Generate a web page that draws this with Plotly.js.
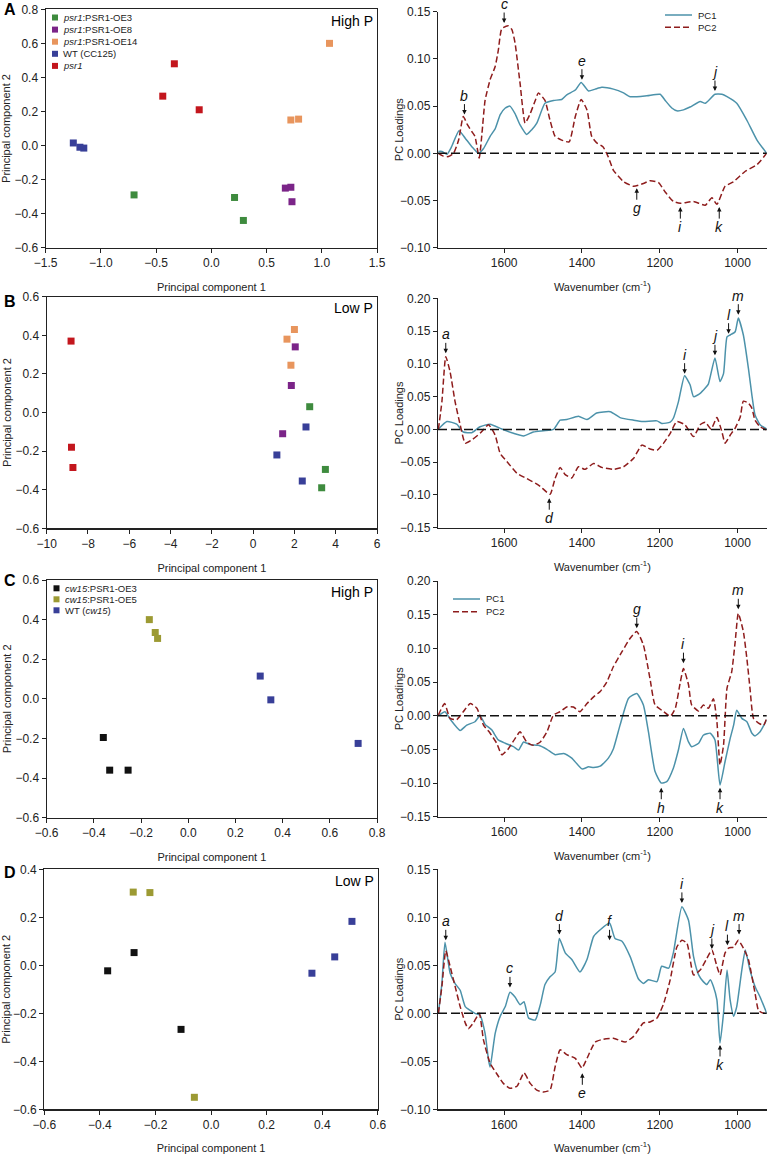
<!DOCTYPE html>
<html><head><meta charset="utf-8">
<script src="https://cdn.plot.ly/plotly-3.0.1.min.js"></script>
<style>html,body{margin:0;padding:0;background:#fff}#chart{width:770px;height:1154px}</style>
</head><body><div id="chart"></div>
<script>
// ---------- Scatter (PCA scores) data ----------
// Panel A (High P)
const A_OE3_x = [-0.70, 0.21, 0.29],   A_OE3_y = [-0.29, -0.305, -0.44];
const A_OE8_x = [0.67, 0.72, 0.73],    A_OE8_y = [-0.25, -0.245, -0.33];
const A_OE14_x = [0.72, 0.79, 1.07],   A_OE14_y = [0.15, 0.155, 0.60];
const A_WT_x = [-1.25, -1.19, -1.155], A_WT_y = [0.015, -0.01, -0.015];
const A_psr1_x = [-0.335, -0.44, -0.11], A_psr1_y = [0.48, 0.29, 0.21];
// Panel B (Low P)
const B_OE3_x = [2.74, 3.5, 3.32],     B_OE3_y = [0.03, -0.295, -0.39];
const B_OE8_x = [2.04, 1.85, 1.43],    B_OE8_y = [0.34, 0.14, -0.11];
const B_OE14_x = [2.0, 1.64, 1.83],    B_OE14_y = [0.43, 0.38, 0.245];
const B_WT_x = [2.56, 1.15, 2.38],     B_WT_y = [-0.075, -0.22, -0.355];
const B_psr1_x = [-8.82, -8.8, -8.73], B_psr1_y = [0.37, -0.18, -0.285];
// Panel C (High P, cw15)
const C_OE3_x = [-0.36, -0.333, -0.255], C_OE3_y = [-0.195, -0.36, -0.36];
const C_OE5_x = [-0.165, -0.14, -0.13],  C_OE5_y = [0.40, 0.335, 0.305];
const C_WT_x = [0.305, 0.35, 0.72],      C_WT_y = [0.115, -0.005, -0.225];
// Panel D (Low P, cw15)
const D_OE3_x = [-0.277, -0.372, -0.108], D_OE3_y = [0.053, -0.023, -0.267];
const D_OE5_x = [-0.28, -0.22, -0.06],    D_OE5_y = [0.305, 0.303, -0.55];
const D_WT_x = [0.507, 0.445, 0.363],     D_WT_y = [0.183, 0.035, -0.033];

const legendPsr = ['<i>psr1</i>:PSR1-OE3', '<i>psr1</i>:PSR1-OE8', '<i>psr1</i>:PSR1-OE14', 'WT (CC125)', '<i>psr1</i>'];
const legendCw = ['<i>cw15</i>:PSR1-OE3', '<i>cw15</i>:PSR1-OE5', 'WT (<i>cw15</i>)'];
const legendPC = ['PC1', 'PC2'];

// ---------- Loadings data (wavenumber, cm-1) ----------
const A_wn1 = [1769,1760,1747,1735,1716,1700,1683,1666,1653,1636,1623,1610,1597,1585,1572,1559,1542,1529,1516,1495,1473,1452,1439,1417,1402,1383,1366,1349,1319,1293,1276,1233,1199,1186,1169,1156,1139,1122,1096,1083,1058,1040,1027,1002,976,950,925];
const A_pc1 = [0.002,0.002,-0.001,0.007,0.024,0.016,0.007,0.000,0.005,0.018,0.026,0.041,0.048,0.050,0.042,0.030,0.020,0.025,0.032,0.053,0.056,0.057,0.062,0.067,0.075,0.066,0.068,0.070,0.068,0.064,0.060,0.061,0.0625,0.056,0.048,0.045,0.046,0.049,0.055,0.053,0.0625,0.0625,0.060,0.053,0.035,0.014,0.000];
const A_wn2 = [1769,1756,1743,1730,1717,1705,1694,1683,1675,1664,1657,1649,1636,1623,1615,1606,1589,1580,1572,1559,1546,1533,1520,1512,1495,1482,1469,1452,1433,1417,1402,1387,1375,1362,1346,1332,1319,1293,1267,1242,1225,1203,1186,1165,1147,1113,1083,1066,1053,1032,1010,980,950,925];
const A_pc2 = [0,-0.003,-0.0035,0,0.014,0.039,0.030,0.023,0.018,-0.005,0.021,0.056,0.078,0.092,0.109,0.132,0.135,0.131,0.117,0.074,0.032,0.042,0.056,0.064,0.056,0.035,0.018,0.014,0.012,0.039,0.057,0.046,0.018,0.011,0.007,-0.004,-0.018,-0.030,-0.035,-0.032,-0.029,-0.031,-0.041,-0.051,-0.053,-0.051,-0.055,-0.047,-0.054,-0.035,-0.030,-0.019,-0.012,0];

const B_wn1 = [1769,1747,1722,1705,1683,1662,1636,1606,1576,1550,1525,1499,1473,1456,1439,1409,1387,1362,1327,1302,1267,1242,1207,1195,1173,1165,1152,1136,1122,1113,1096,1083,1075,1058,1045,1036,1027,1019,1006,998,985,972,963,955,942,925];
const B_pc1 = [0.0005,0.012,0.008,-0.004,-0.005,0.004,0.008,0.0005,-0.006,-0.010,-0.004,-0.002,0,0.014,0.015,0.020,0.015,0.025,0.027,0.018,0.014,0.012,0.013,0.009,0.011,0.017,0.042,0.082,0.068,0.050,0.055,0.063,0.069,0.109,0.073,0.085,0.141,0.144,0.149,0.170,0.144,0.093,0.052,0.022,0.007,0.0005];
const B_wn2 = [1769,1760,1750,1739,1726,1713,1700,1683,1662,1640,1623,1610,1593,1567,1542,1520,1507,1482,1469,1456,1443,1426,1409,1392,1370,1349,1319,1293,1267,1246,1225,1207,1190,1173,1156,1135,1113,1096,1083,1068,1053,1040,1032,1019,1006,993,985,972,963,955,942,925];
const B_pc2 = [0,0.042,0.111,0.088,0.042,0.007,-0.021,-0.016,-0.006,0.007,-0.009,-0.037,-0.049,-0.067,-0.075,-0.082,-0.087,-0.099,-0.075,-0.058,-0.069,-0.074,-0.057,-0.061,-0.052,-0.058,-0.061,-0.057,-0.044,-0.024,-0.030,-0.032,-0.021,-0.006,0.012,0.007,-0.011,0.007,0.011,0.0005,0.018,-0.004,-0.021,-0.009,0.002,0.019,0.043,0.040,0.032,0.014,0.004,-0.001];

const C_wn1 = [1769,1752,1739,1713,1696,1675,1662,1649,1632,1615,1597,1576,1563,1550,1533,1512,1490,1469,1447,1426,1400,1383,1370,1353,1332,1319,1302,1280,1259,1242,1229,1212,1196,1182,1165,1152,1139,1126,1118,1100,1088,1070,1058,1045,1032,1019,1010,1002,989,976,963,955,942,925];
const C_pc1 = [0,0.006,-0.005,-0.022,-0.014,-0.009,0,-0.013,-0.021,-0.036,-0.041,-0.046,-0.051,-0.039,-0.043,-0.044,-0.050,-0.058,-0.056,-0.063,-0.079,-0.076,-0.077,-0.075,-0.063,-0.049,-0.014,0.026,0.033,0.016,-0.024,-0.083,-0.100,-0.098,-0.078,-0.051,-0.019,-0.039,-0.046,-0.041,-0.029,-0.026,-0.036,-0.103,-0.068,-0.034,-0.014,0.008,-0.004,-0.009,-0.026,-0.030,-0.024,-0.006];
const C_wn2 = [1769,1753,1739,1722,1705,1687,1670,1653,1636,1619,1606,1589,1572,1559,1542,1525,1507,1490,1473,1456,1439,1422,1405,1387,1370,1353,1336,1319,1297,1276,1259,1242,1225,1212,1190,1173,1160,1147,1139,1126,1118,1100,1088,1075,1062,1053,1045,1036,1027,1015,1006,998,985,976,968,959,946,933,925];
const C_pc2 = [0.001,0.018,-0.004,-0.006,0.006,0.018,0.011,-0.014,-0.026,-0.041,-0.058,-0.049,-0.034,-0.024,-0.039,-0.044,-0.039,-0.024,0.001,0.006,0.013,0.013,0.006,0.018,0.028,0.036,0.050,0.073,0.095,0.115,0.125,0.105,0.055,0.016,0.006,-0.001,0.011,0.050,0.070,0.046,0.016,0.007,0.016,0.011,0.025,-0.009,-0.073,-0.044,0.041,0.065,0.110,0.152,0.125,0.085,0.041,-0.004,-0.011,-0.014,-0.004];

const D_wn1 = [1769,1760,1752,1739,1726,1713,1700,1687,1675,1662,1649,1640,1636,1623,1610,1597,1585,1572,1559,1549,1537,1520,1507,1495,1482,1469,1458,1443,1426,1405,1387,1370,1353,1329,1315,1297,1276,1255,1242,1229,1207,1195,1177,1165,1143,1126,1113,1100,1088,1079,1070,1062,1053,1045,1036,1027,1019,1010,1002,989,980,968,955,942,925];
const D_pc1 = [0,0.031,0.074,0.042,0.031,0.024,0.007,0.003,0,-0.002,-0.021,-0.049,-0.056,-0.021,-0.003,0.007,0.022,0.017,0.009,0.012,-0.005,-0.007,0.009,0.030,0.038,0.043,0.078,0.063,0.056,0.043,0.056,0.080,0.087,0.094,0.078,0.075,0.059,0.036,0.031,0.035,0.033,0.049,0.047,0.063,0.111,0.097,0.059,0.040,0.033,0.030,0.035,0.028,0.014,-0.031,0,0.045,0.014,-0.003,0.007,0.045,0.066,0.045,0.028,0.017,0];
const D_wn2 = [1769,1760,1750,1739,1726,1713,1700,1692,1679,1664,1653,1636,1619,1602,1585,1567,1549,1533,1516,1499,1482,1469,1456,1439,1417,1400,1387,1366,1345,1319,1289,1267,1242,1225,1207,1190,1173,1156,1143,1130,1113,1096,1079,1066,1053,1045,1032,1023,1010,998,985,972,955,946,933,925];
const D_pc2 = [0,0.028,0.065,0.049,0.028,0.007,-0.010,-0.016,-0.010,0,-0.028,-0.052,-0.063,-0.073,-0.078,-0.076,-0.062,-0.073,-0.080,-0.082,-0.080,-0.056,-0.038,-0.043,-0.047,-0.057,-0.047,-0.030,-0.027,-0.026,-0.030,-0.024,-0.010,-0.009,-0.005,0.010,0.035,0.069,0.076,0.073,0.040,0.045,0.057,0.066,0.049,0.040,0.063,0.068,0.069,0.076,0.068,0.056,0.021,0.003,0,0];

// ---------- Peak labels ----------
const A_lab = ['b','c','e','j','g','i','k'];
const A_labX = [1702,1600,1400,1058,1259,1147,1047];
const A_labY = [0.041,0.138,0.078,0.066,-0.037,-0.057,-0.057];
const A_labDir = [1,1,1,1,-1,-1,-1];
const B_lab = ['a','i','j','l','m','d'];
const B_labX = [1750,1136,1058,1023,998,1484];
const B_labY = [0.116,0.085,0.113,0.146,0.175,-0.105];
const B_labDir = [1,1,1,1,1,-1];
const C_lab = ['g','i','m','h','k'];
const C_labX = [1259,1139,998,1196,1045];
const C_labY = [0.130,0.078,0.158,-0.107,-0.107];
const C_labDir = [1,1,1,-1,-1];
const D_lab = ['a','c','d','f','i','j','l','m','k','e'];
const D_labX = [1750,1585,1458,1329,1143,1066,1026,996,1045,1399];
const D_labY = [0.076,0.027,0.082,0.076,0.115,0.067,0.071,0.082,-0.033,-0.0625];
const D_labDir = [1,1,1,1,1,1,1,1,-1,-1];

// ---------- Styles ----------
const W = 770, H = 1154;
const px = v => v / W, py = v => 1 - v / H;
const F = 'Liberation Sans, Arial, sans-serif';
const INK = '#222';
const colPsr = ['#3e8b3e', '#7b2488', '#e8955d', '#383f98', '#c3161d'];
const colCw = ['#111111', '#9c9a33', '#383f98'];
const colPC1 = '#4c92aa', colPC2 = '#8e1c1c';

const traces = [];
function addScatter(xa, ya, xs, ys, color) {
  traces.push({type:'scatter', mode:'markers', x:xs, y:ys, xaxis:xa, yaxis:ya,
    marker:{symbol:'square', size:7, color:color, line:{width:0}}, showlegend:false, cliponaxis:false, hoverinfo:'x+y'});
}
function addLine(xa, ya, xs, ys, color, dash) {
  traces.push({type:'scatter', mode:'lines', x:xs, y:ys, xaxis:xa, yaxis:ya,
    line:{color:color, width:1.5, dash:dash, shape:'spline', smoothing:0.5}, showlegend:false});
}

// Row A
addScatter('x','y', A_OE3_x, A_OE3_y, colPsr[0]);
addScatter('x','y', A_OE8_x, A_OE8_y, colPsr[1]);
addScatter('x','y', A_OE14_x, A_OE14_y, colPsr[2]);
addScatter('x','y', A_WT_x, A_WT_y, colPsr[3]);
addScatter('x','y', A_psr1_x, A_psr1_y, colPsr[4]);
addLine('x2','y2', A_wn1, A_pc1, colPC1, 'solid');
addLine('x2','y2', A_wn2, A_pc2, colPC2, '6px,3px');
// Row B
addScatter('x3','y3', B_OE3_x, B_OE3_y, colPsr[0]);
addScatter('x3','y3', B_OE8_x, B_OE8_y, colPsr[1]);
addScatter('x3','y3', B_OE14_x, B_OE14_y, colPsr[2]);
addScatter('x3','y3', B_WT_x, B_WT_y, colPsr[3]);
addScatter('x3','y3', B_psr1_x, B_psr1_y, colPsr[4]);
addLine('x4','y4', B_wn1, B_pc1, colPC1, 'solid');
addLine('x4','y4', B_wn2, B_pc2, colPC2, '6px,3px');
// Row C
addScatter('x5','y5', C_OE3_x, C_OE3_y, colCw[0]);
addScatter('x5','y5', C_OE5_x, C_OE5_y, colCw[1]);
addScatter('x5','y5', C_WT_x, C_WT_y, colCw[2]);
addLine('x6','y6', C_wn1, C_pc1, colPC1, 'solid');
addLine('x6','y6', C_wn2, C_pc2, colPC2, '6px,3px');
// Row D
addScatter('x7','y7', D_OE3_x, D_OE3_y, colCw[0]);
addScatter('x7','y7', D_OE5_x, D_OE5_y, colCw[1]);
addScatter('x7','y7', D_WT_x, D_WT_y, colCw[2]);
addLine('x8','y8', D_wn1, D_pc1, colPC1, 'solid');
addLine('x8','y8', D_wn2, D_pc2, colPC2, '6px,3px');

function baseAxis(extra) {
  return Object.assign({
    showline:true, linecolor:INK, linewidth:1.2, ticks:'outside', ticklen:4, tickwidth:1, tickcolor:INK,
    showgrid:false, zeroline:false, fixedrange:true,
    tickfont:{family:F, size:12, color:INK}
  }, extra);
}
function ttl(t) { return {text:t, font:{family:F, size:11, color:INK}}; }

const pcX = 'Principal component 1', pcY = 'Principal component 2';
const wnT = 'Wavenumber (cm<sup>-1</sup>)', plT = 'PC Loadings';
const Lx = [px(45.7), px(377)], Rx = [px(438), px(766.7)];

const layout = {
  width:W, height:H, margin:{l:0,r:0,t:0,b:0}, paper_bgcolor:'#fff', plot_bgcolor:'#fff',
  showlegend:false, font:{family:F, color:INK},
  // Row A
  xaxis: baseAxis({domain:Lx, anchor:'y', range:[-1.5,1.5], dtick:0.5, tick0:0, tickformat:'.1f', mirror:true, title:ttl(pcX)}),
  yaxis: baseAxis({domain:[py(247.7), py(9.3)], anchor:'x', range:[-0.6,0.8], dtick:0.2, tick0:0, tickformat:'.1f', mirror:true, title:ttl(pcY)}),
  xaxis2: baseAxis({domain:Rx, anchor:'y2', range:[1770,925], tickvals:[1600,1400,1200,1000], title:ttl(wnT)}),
  yaxis2: baseAxis({domain:[py(247.7), py(11.7)], anchor:'x2', range:[-0.10,0.15], dtick:0.05, tick0:0, tickformat:'.2f', title:ttl(plT)}),
  // Row B
  xaxis3: baseAxis({domain:[px(46.7), px(377)], anchor:'y3', range:[-10,6], dtick:2, tick0:0, mirror:true, title:ttl(pcX)}),
  yaxis3: baseAxis({domain:[py(528.3), py(296.7)], anchor:'x3', range:[-0.6,0.6], dtick:0.2, tick0:0, tickformat:'.1f', mirror:true, title:ttl(pcY)}),
  xaxis4: baseAxis({domain:Rx, anchor:'y4', range:[1770,925], tickvals:[1600,1400,1200,1000], title:ttl(wnT)}),
  yaxis4: baseAxis({domain:[py(527.7), py(298.3)], anchor:'x4', range:[-0.15,0.20], dtick:0.05, tick0:0, tickformat:'.2f', title:ttl(plT)}),
  // Row C
  xaxis5: baseAxis({domain:[px(46.7), px(377)], anchor:'y5', range:[-0.6,0.8], dtick:0.2, tick0:0, tickformat:'.1f', mirror:true, title:ttl(pcX)}),
  yaxis5: baseAxis({domain:[py(817.7), py(580)], anchor:'x5', range:[-0.6,0.6], dtick:0.2, tick0:0, tickformat:'.1f', mirror:true, title:ttl(pcY)}),
  xaxis6: baseAxis({domain:Rx, anchor:'y6', range:[1770,925], tickvals:[1600,1400,1200,1000], title:ttl(wnT)}),
  yaxis6: baseAxis({domain:[py(816.7), py(581)], anchor:'x6', range:[-0.15,0.20], dtick:0.05, tick0:0, tickformat:'.2f', title:ttl(plT)}),
  // Row D
  xaxis7: baseAxis({domain:[px(44.3), px(377.8)], anchor:'y7', range:[-0.6,0.6], dtick:0.2, tick0:0, tickformat:'.1f', mirror:true, title:ttl(pcX)}),
  yaxis7: baseAxis({domain:[py(1109.3), py(869.3)], anchor:'x7', range:[-0.6,0.4], dtick:0.2, tick0:0, tickformat:'.1f', mirror:true, title:ttl(pcY)}),
  xaxis8: baseAxis({domain:Rx, anchor:'y8', range:[1770,925], tickvals:[1600,1400,1200,1000], title:ttl(wnT)}),
  yaxis8: baseAxis({domain:[py(1109.3), py(869.3)], anchor:'x8', range:[-0.10,0.15], dtick:0.05, tick0:0, tickformat:'.2f', title:ttl(plT)}),
  shapes:[], annotations:[]
};

// dashed zero lines on loading plots
[['x2','y2'],['x4','y4'],['x6','y6'],['x8','y8']].forEach(([xa,ya]) => {
  layout.shapes.push({type:'line', xref:xa+' domain', yref:ya, x0:0, x1:1, y0:0, y1:0,
    line:{color:'#111', width:1.5, dash:'9px,4px'}});
});

// peak letter labels with arrows
function addLabels(xa, ya, labs, xs, ys, dirs) {
  labs.forEach((t, i) => {
    layout.annotations.push({xref:xa, yref:ya, x:xs[i], y:ys[i], text:'<i>'+t+'</i>',
      showarrow:true, arrowhead:2, arrowsize:0.9, arrowwidth:1, arrowcolor:'#111',
      ax:0, ay: dirs[i] > 0 ? -19 : 20, borderpad:0,
      font:{family:F, size:14, color:'#111'}});
  });
}
addLabels('x2','y2', A_lab, A_labX, A_labY, A_labDir);
addLabels('x4','y4', B_lab, B_labX, B_labY, B_labDir);
addLabels('x6','y6', C_lab, C_labX, C_labY, C_labDir);
addLabels('x8','y8', D_lab, D_labX, D_labY, D_labDir);

// panel letters
[['A',9],['B',301],['C',580],['D',872]].forEach(([t,y]) => {
  layout.annotations.push({xref:'paper', yref:'paper', x:px(2), y:py(y), xanchor:'left', yanchor:'middle',
    text:'<b>'+t+'</b>', showarrow:false, font:{family:F, size:16, color:'#000'}});
});
// condition labels
[['High P','x','y'],['Low P','x3','y3'],['High P','x5','y5'],['Low P','x7','y7']].forEach(([t,xa,ya]) => {
  layout.annotations.push({xref:xa+' domain', yref:ya+' domain', x:0.995, y:0.993, xanchor:'right', yanchor:'top',
    text:t, showarrow:false, font:{family:F, size:14, color:'#000'}});
});

// scatter legends (square swatch + label)
function scatterLegend(names, cols, x0, y0, step) {
  names.forEach((n, i) => {
    const yc = y0 + i*step;
    layout.shapes.push({type:'rect', xref:'paper', yref:'paper', x0:px(x0-3), x1:px(x0+3), y0:py(yc+3), y1:py(yc-3),
      fillcolor:cols[i], line:{width:0}});
    layout.annotations.push({xref:'paper', yref:'paper', x:px(x0+6), y:py(yc), xanchor:'left', yanchor:'middle',
      text:n, showarrow:false, font:{family:F, size:9.5, color:INK}});
  });
}
scatterLegend(legendPsr, colPsr, 55, 17.5, 12.1);
scatterLegend(legendCw, colCw, 56.5, 588.3, 11);

// loading legends (line swatch + label)
function lineLegend(x0, x1, y0, step) {
  const cols = [colPC1, colPC2], dashes = ['solid', '6px,3px'];
  legendPC.forEach((n, i) => {
    const yc = y0 + i*step;
    layout.shapes.push({type:'line', xref:'paper', yref:'paper', x0:px(x0), x1:px(x1), y0:py(yc), y1:py(yc),
      line:{color:cols[i], width:1.5, dash:dashes[i]}});
    layout.annotations.push({xref:'paper', yref:'paper', x:px(x1+4), y:py(yc), xanchor:'left', yanchor:'middle',
      text:n, showarrow:false, font:{family:F, size:9.5, color:INK}});
  });
}
lineLegend(665, 692, 15, 12.3);
lineLegend(453, 480, 599, 12.7);

Plotly.newPlot('chart', traces, layout, {staticPlot:true, displayModeBar:false});
</script></body></html>
